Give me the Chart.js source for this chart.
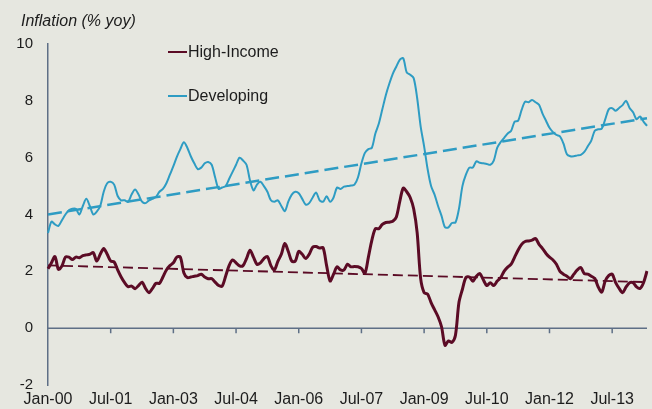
<!DOCTYPE html>
<html>
<head>
<meta charset="utf-8">
<script src="https://cdn.jsdelivr.net/npm/chart.js@4.4.1/dist/chart.umd.min.js"></script>
<style>
    html, body { margin: 0; padding: 0; background: #e6e7e0; }
    #wrap { position: relative; width: 652px; height: 409px; font-family: "Liberation Sans", Arial, sans-serif; color: #1c1c1c; }
    #chartTitle { position: absolute; left: 21px; top: 12px; font-size: 16px; font-style: italic; line-height: 18px; }
    .legend-item { position: absolute; left: 168px; font-size: 16px; line-height: 18px; display: flex; align-items: center; }
    .legend-swatch { width: 19px; height: 2px; margin-right: 1px; }
</style>
</head>
<body>
<div id="wrap">
    <canvas id="inflationChart" width="652" height="409"></canvas>
    <div id="chartTitle">Inflation (% yoy)</div>
    <div id="legend"></div>
</div>
<script>
const monthNames = ["Jan", "Feb", "Mar", "Apr", "May", "Jun", "Jul", "Aug", "Sep", "Oct", "Nov", "Dec"];
const firstYear = 2000;
const monthCount = 173; // Jan-00 .. May-14
const labelEvery = 18;

const yTicks = [-2, 0, 2, 4, 6, 8, 10];

// monthly inflation, % yoy
const highIncome = [
    2.09, 2.30, 2.52, 2.07, 2.19, 2.50, 2.50, 2.42, 2.50, 2.48, 2.55, 2.58,
    2.60, 2.66, 2.36, 2.60, 2.80, 2.60, 2.36, 2.33, 2.05, 1.80, 1.60, 1.46,
    1.48, 1.39, 1.50, 1.62, 1.40, 1.25, 1.40, 1.58, 1.58, 1.80, 2.05, 2.20,
    2.30, 2.50, 2.50, 1.95, 1.78, 1.80, 1.83, 1.85, 1.90, 1.80, 1.74, 1.74,
    1.62, 1.50, 1.48, 1.83, 2.20, 2.40, 2.30, 2.19, 2.20, 2.45, 2.74, 2.50,
    2.25, 2.30, 2.45, 2.52, 2.20, 2.05, 2.35, 2.60, 2.98, 2.70, 2.36, 2.36,
    2.70, 2.60, 2.45, 2.60, 2.85, 2.87, 2.82, 2.83, 2.20, 1.66, 1.90, 2.16,
    2.05, 2.05, 2.25, 2.16, 2.17, 2.16, 2.10, 1.93, 2.50, 3.10, 3.50, 3.50,
    3.65, 3.72, 3.73, 3.76, 3.90, 4.45, 4.93, 4.80, 4.60, 4.20, 3.36, 1.75,
    1.25, 1.20, 0.90, 0.65, 0.40, 0.05, -0.60, -0.45, -0.50, -0.25, 0.90, 1.37,
    1.78, 1.80, 1.65, 1.83, 1.92, 1.70, 1.50, 1.60, 1.50, 1.66, 1.78, 2.01,
    2.15, 2.25, 2.50, 2.75, 2.95, 3.05, 3.07, 3.10, 3.15, 2.95, 2.80, 2.63,
    2.50, 2.40, 2.25, 2.00, 1.90, 1.83, 1.74, 1.90, 2.05, 2.13, 1.92, 1.90,
    1.83, 1.75, 1.45, 1.27, 1.66, 1.85, 1.90, 1.60, 1.40, 1.25, 1.45, 1.60,
    1.60, 1.45, 1.40, 1.60, 2.01
];

const developing = [
    3.35, 3.75, 3.65, 3.60, 3.80, 4.00, 4.15, 4.20, 4.20, 4.00, 4.30, 4.55,
    4.30, 4.00, 4.10, 4.30, 4.80, 5.10, 5.15, 5.05, 4.65, 4.50, 4.50, 4.45,
    4.70, 4.88, 4.70, 4.45, 4.40, 4.50, 4.55, 4.62, 4.80, 4.90, 5.10, 5.40,
    5.70, 6.03, 6.30, 6.54, 6.35, 6.05, 5.80, 5.60, 5.65, 5.80, 5.85, 5.75,
    5.30, 4.90, 4.95, 5.00, 5.25, 5.50, 5.75, 6.00, 5.90, 5.75, 5.20, 4.85,
    5.05, 5.15, 5.00, 4.80, 4.50, 4.45, 4.50, 4.30, 4.12, 4.45, 4.70, 4.80,
    4.75, 4.55, 4.35, 4.40, 4.60, 4.77, 4.50, 4.45, 4.64, 4.45, 4.60, 4.95,
    4.90, 4.98, 5.00, 5.02, 5.05, 5.30, 5.80, 6.17, 6.30, 6.35, 6.85, 7.20,
    7.70, 8.20, 8.60, 8.95, 9.20, 9.44, 9.50, 9.00, 8.92, 8.80, 8.10, 7.10,
    6.40, 5.60, 5.00, 4.70, 4.30, 3.95, 3.55, 3.55, 3.70, 3.72, 4.20, 5.00,
    5.40, 5.65, 5.65, 5.87, 5.82, 5.80, 5.78, 5.75, 5.90, 6.35, 6.55, 6.70,
    6.85, 6.95, 7.27, 7.30, 7.68, 7.97, 7.95, 8.03, 7.95, 7.86, 7.55, 7.30,
    7.05, 6.90, 6.80, 6.75, 6.50, 6.12, 6.05, 6.05, 6.08, 6.10, 6.20, 6.40,
    6.60, 6.95, 7.00, 7.02, 7.35, 7.70, 7.74, 7.65, 7.75, 7.85, 8.00, 7.75,
    7.60, 7.35, 7.45, 7.27, 7.12
];

// linear trend lines: value at first and last month
const highIncomeTrend = [2.21, 1.62];
const developingTrend = [4.0, 7.39];

const maroon = "#5b0b25";
const blue = "#2e9cc3";
const axisColor = "#5e6f86";

const monthLabels = [];
for (let i = 0; i < monthCount; i++) {
    const year = String((firstYear + Math.floor(i / 12)) % 100).padStart(2, "0");
    monthLabels.push(`${monthNames[i % 12]}-${year}`);
}

function trendData(ends) {
    const data = new Array(monthCount).fill(null);
    data[0] = ends[0];
    data[monthCount - 1] = ends[1];
    return data;
}

// axis line through zero with the small tick marks, like the original
const zeroAxis = {
    id: "zeroAxis",
    beforeDatasetsDraw(chart) {
        const { ctx, chartArea, scales } = chart;
        const y0 = scales.y.getPixelForValue(0);
        ctx.save();
        ctx.strokeStyle = axisColor;
        ctx.lineWidth = 1.5;
        ctx.beginPath();
        ctx.moveTo(chartArea.left, y0);
        ctx.lineTo(chartArea.right, y0);
        for (let i = labelEvery; i < monthCount; i += labelEvery) {
            const x = scales.x.getPixelForValue(i);
            ctx.moveTo(x, y0);
            ctx.lineTo(x, y0 + 5);
        }
        ctx.stroke();
        ctx.restore();
    },
};

const chart = new Chart(document.getElementById("inflationChart"), {
    type: "line",
    data: {
        labels: monthLabels,
        datasets: [
            {
                label: "High-Income",
                data: highIncome,
                borderColor: maroon,
                borderWidth: 3,
                tension: 0.3,
                pointRadius: 0,
            },
            {
                label: "Developing",
                data: developing,
                borderColor: blue,
                borderWidth: 2,
                tension: 0.3,
                pointRadius: 0,
            },
            {
                label: "High-Income trend",
                data: trendData(highIncomeTrend),
                borderColor: maroon,
                borderWidth: 1.8,
                borderDash: [10, 5],
                spanGaps: true,
                pointRadius: 0,
            },
            {
                label: "Developing trend",
                data: trendData(developingTrend),
                borderColor: blue,
                borderWidth: 2.5,
                borderDash: [14, 6],
                spanGaps: true,
                pointRadius: 0,
            },
        ],
    },
    options: {
        responsive: false,
        animation: false,
        layout: { padding: { top: 44, right: 4, left: 0, bottom: 0 } },
        plugins: {
            legend: { display: false },
            tooltip: { enabled: false },
        },
        scales: {
            x: {
                grid: { display: false, drawTicks: false },
                border: { display: false },
                ticks: {
                    autoSkip: false,
                    maxRotation: 0,
                    padding: 5,
                    color: "#1c1c1c",
                    font: { family: "Liberation Sans", size: 16 },
                    callback: (value, index) => (index % labelEvery === 0 ? monthLabels[index] : ""),
                },
                afterFit: (scale) => { scale.height = 23; },
            },
            y: {
                min: yTicks[0],
                max: yTicks[yTicks.length - 1],
                grid: { display: false, drawTicks: false },
                border: { display: true, color: axisColor, width: 1.5 },
                ticks: {
                    stepSize: 2,
                    padding: 15,
                    color: "#1c1c1c",
                    font: { family: "Liberation Sans", size: 15 },
                },
                afterFit: (scale) => { scale.width = 48; },
            },
        },
    },
    plugins: [zeroAxis],
});

// legend drawn from the two main series
const legend = document.getElementById("legend");
const legendTops = [43, 87];
chart.data.datasets.slice(0, 2).forEach((ds, i) => {
    const item = document.createElement("div");
    item.className = "legend-item";
    item.style.top = `${legendTops[i]}px`;
    item.innerHTML = `<span class="legend-swatch" style="background:${ds.borderColor}"></span>${ds.label}`;
    legend.appendChild(item);
});
</script>
</body>
</html>
